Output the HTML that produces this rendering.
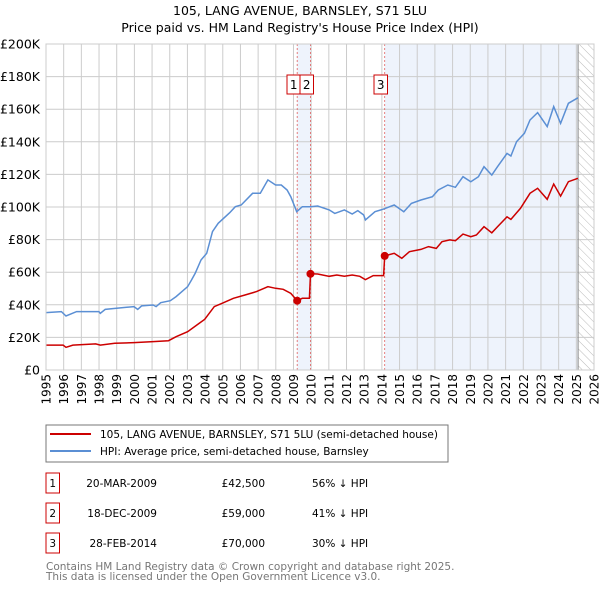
<!DOCTYPE html>
<html><head><meta charset="utf-8"><style>
body{margin:0;background:#fff;font-family:"Liberation Sans","DejaVu Sans",sans-serif;}
svg text{font-family:"DejaVu Sans","Liberation Sans",sans-serif;}
</style></head><body>
<svg id="c" width="600" height="590" xmlns="http://www.w3.org/2000/svg">
<defs><pattern id="hatch" width="6" height="6" patternUnits="userSpaceOnUse" patternTransform="rotate(-45)"><line x1="0" y1="0" x2="0" y2="6" stroke="#bbb" stroke-width="1"/></pattern></defs>
<text x="300" y="15" text-anchor="middle" font-size="12.5">105, LANG AVENUE, BARNSLEY, S71 5LU</text>
<text x="300" y="32" text-anchor="middle" font-size="12.5">Price paid vs. HM Land Registry's House Price Index (HPI)</text>
<g id="plot"></g>
<rect x="46" y="425" width="402" height="37" fill="#fff" stroke="#777"/>
<line x1="50" y1="434" x2="91" y2="434" stroke="#cc0000" stroke-width="2"/>
<text x="100" y="438" font-size="10.5">105, LANG AVENUE, BARNSLEY, S71 5LU (semi-detached house)</text>
<line x1="50" y1="451" x2="91" y2="451" stroke="#5b8fd4" stroke-width="2"/>
<text x="100" y="455" font-size="10.5">HPI: Average price, semi-detached house, Barnsley</text>
<g id="tbl" font-size="10.5"></g>
<text x="46" y="570" font-size="10.5" fill="#777">Contains HM Land Registry data © Crown copyright and database right 2025.</text>
<text x="46" y="580" font-size="10.5" fill="#777">This data is licensed under the Open Government Licence v3.0.</text>
</svg>
<script>
const hpiYears=[1995.0,1995.87,1996.13,1996.73,1997.99,1998.07,1998.35,1999.98,2000.19,2000.41,2001.06,2001.23,2001.49,2002.03,2002.36,2003.01,2003.23,2003.44,2003.77,2004.09,2004.42,2004.74,2005.39,2005.71,2006.04,2006.69,2007.12,2007.55,2007.99,2008.31,2008.64,2008.85,2009.18,2009.5,2009.94,2010.37,2011.02,2011.34,2011.88,2012.32,2012.64,2012.97,2013.07,2013.61,2014.05,2014.7,2015.24,2015.67,2016.21,2016.86,2017.19,2017.73,2018.16,2018.59,2019.03,2019.46,2019.78,2020.22,2020.54,2021.08,2021.3,2021.62,2022.06,2022.38,2022.81,2023.35,2023.72,2024.11,2024.55,2025.09];
const hpiValues=[35.2,35.8,33.1,35.8,35.8,34.8,37.2,38.9,37.2,39.3,39.9,38.9,41.3,42.5,45.0,51.1,55.2,59.3,67.5,71.6,84.9,90.0,96.5,100.2,101.2,108.4,108.4,116.6,113.5,113.5,110.4,106.3,97.1,100.2,100.2,100.6,98.2,96.1,98.2,95.7,97.8,95.1,92.0,97.1,98.6,101.2,97.1,102.2,104.3,106.3,110.4,113.5,112.1,118.6,115.5,118.6,124.7,119.6,124.7,132.9,131.3,140.1,145.2,153.4,157.9,149.3,161.6,151.3,163.6,167.0];
const propYears=[1995.0,1995.97,1996.13,1996.52,1997.81,1998.07,1998.89,1999.98,2001.06,2001.93,2002.36,2003.01,2003.66,2003.98,2004.52,2004.96,2005.6,2006.26,2006.91,2007.34,2007.55,2007.99,2008.42,2008.85,2009.21,2009.5,2009.9,2009.96,2010.37,2011.02,2011.45,2011.88,2012.32,2012.75,2013.07,2013.51,2014.1,2014.16,2014.7,2015.13,2015.56,2016.21,2016.64,2017.08,2017.4,2017.84,2018.16,2018.59,2019.03,2019.35,2019.78,2020.22,2020.54,2021.08,2021.3,2021.84,2022.38,2022.81,2023.35,2023.72,2024.11,2024.55,2025.09];
const propValues=[15.3,15.3,13.9,15.3,16.0,15.3,16.4,16.8,17.4,18.0,20.4,23.5,28.6,31.1,38.9,40.9,44.0,46.0,48.1,50.1,51.1,50.1,49.5,47.0,42.5,44.0,44.0,59.0,58.9,57.5,58.3,57.5,58.3,57.5,55.4,57.9,57.9,70.0,71.6,68.5,72.6,74.0,75.7,74.6,78.7,79.8,79.3,83.4,81.8,82.8,87.9,84.2,87.9,94.0,92.4,99.2,108.4,111.5,104.7,114.1,106.7,115.5,117.6];
const saleLabels=["1","2","3"];
const saleYears=[2009.21,2009.96,2014.16];
const saleValues=[42.5,59.0,70.0];
const saleDates=["20-MAR-2009","18-DEC-2009","28-FEB-2014"];
const salePrices=["£42,500","£59,000","£70,000"];
const saleHpi=["56% ↓ HPI","41% ↓ HPI","30% ↓ HPI"];
const yTicks=[0,20,40,60,80,100,120,140,160,180,200];
const xTicks=[];for(let y=1995;y<=2026;y++)xTicks.push(y);
const dataEnd=2025.1;

const X0=46,X1=594,Y0=370,Y1=44;
const xs=y=>X0+(y-1995)/31*(X1-X0);
const ys=v=>Y0-v/200*(Y0-Y1);
const NS="http://www.w3.org/2000/svg";
const g=document.getElementById('plot');
function mk(t,a,p){const e=document.createElementNS(NS,t);for(const k in a)e.setAttribute(k,a[k]);(p||g).appendChild(e);return e;}

let e=mk('rect',{x:xs(saleYears[0]),y:Y1,width:xs(saleYears[1])-xs(saleYears[0]),height:Y0-Y1,fill:'#eef3fc'});


e=mk('rect',{x:xs(saleYears[2]),y:Y1,width:xs(dataEnd)-xs(saleYears[2]),height:Y0-Y1,fill:'#eef3fc'});


e=mk('rect',{x:xs(dataEnd),y:Y1,width:X1-xs(dataEnd),height:Y0-Y1,fill:'url(#hatch)'});



xTicks.forEach(y=>{
 let l=mk('line',{x1:xs(y),x2:xs(y),y1:Y1,y2:Y0,stroke:'#ccc','stroke-width':1});
 
 
 let t=mk('text',{x:0,y:0,'font-size':12,'text-anchor':'end',transform:`translate(${xs(y)+4.5},374) rotate(-90)`});
 t.textContent=y;
 
 
});
yTicks.forEach(v=>{
 let l=mk('line',{x1:X0,x2:X1,y1:ys(v),y2:ys(v),stroke:'#ccc','stroke-width':1});
 
 
 let t=mk('text',{x:40,y:ys(v)+4.5,'font-size':12.5,'text-anchor':'end'});
 t.textContent=v===0?'£0':'£'+v+'K';
 
 
});
e=mk('line',{x1:xs(dataEnd),x2:xs(dataEnd),y1:Y1,y2:Y0,stroke:'#888','stroke-width':1});


saleYears.forEach((y,i)=>{
 let l=mk('line',{x1:xs(y),x2:xs(y),y1:Y1,y2:Y0,stroke:'#e06060','stroke-width':0.8,'stroke-dasharray':'2,2'});
 
 
});
function path(xa,va,col,name){
 const d=xa.map((x,i)=>(i?'L':'M')+xs(x).toFixed(1)+','+ys(va[i]).toFixed(1)).join('');
 const p=mk('path',{d:d,fill:'none',stroke:col,'stroke-width':1.5});
 
 
}
path(hpiYears,hpiValues,'#5b8fd4','hpi-line');
path(propYears,propValues,'#cc0000','property-line');
saleYears.forEach((y,i)=>{
 let c=mk('circle',{cx:xs(y),cy:ys(saleValues[i]),r:4,fill:'#cc0000'});
 
 
});
const boxX=[287,300,374];
saleLabels.forEach((s,i)=>{
 let r=mk('rect',{x:boxX[i],y:75,width:13.5,height:19,fill:'#fff',stroke:'#cc0000','stroke-width':1});
 
 
 let t=mk('text',{x:boxX[i]+6.75,y:89,'font-size':12,'text-anchor':'middle'});
 t.textContent=s;
 
 
});
e=mk('rect',{x:X0,y:Y1,width:X1-X0,height:Y0-Y1,fill:'none',stroke:'#ccc'});



const tb=document.getElementById('tbl');
saleLabels.forEach((s,i)=>{
 const cy=483+i*30;
 let r=mk('rect',{x:46,y:cy-10,width:13.5,height:20,fill:'none',stroke:'#cc0000'},tb);
 
 
 let t=mk('text',{x:52.75,y:cy+4,'text-anchor':'middle'},tb);t.textContent=s;
 
 
 t=mk('text',{x:157,y:cy+4,'text-anchor':'end'},tb);t.textContent=saleDates[i];
 
 
 t=mk('text',{x:265,y:cy+4,'text-anchor':'end'},tb);t.textContent=salePrices[i];
 
 
 t=mk('text',{x:312,y:cy+4},tb);t.textContent=saleHpi[i];
 
 
});
</script>
</body></html>
